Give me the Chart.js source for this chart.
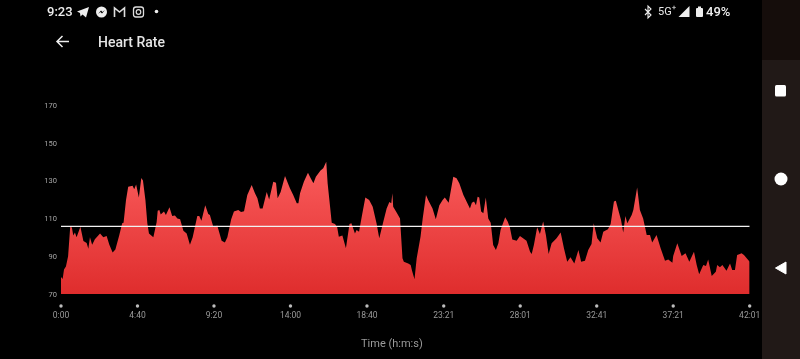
<!DOCTYPE html>
<html><head><meta charset="utf-8"><title>Heart Rate</title>
<script src="https://cdn.jsdelivr.net/npm/chart.js@4"></script>
<style>
html,body{margin:0;padding:0;background:#000;width:800px;height:359px;overflow:hidden;font-family:Roboto,sans-serif}
#wrap{position:absolute;left:0;top:0;width:800px;height:359px}
canvas{position:absolute;left:0;top:0}
.t{position:absolute;white-space:nowrap;line-height:1}
svg{position:absolute;overflow:visible}
#navTop{position:absolute;left:762px;top:0;width:38px;height:60px;background:#150d0b}
#nav{position:absolute;left:762px;top:60px;width:38px;height:299px;background:#211917}
</style></head><body>
<div id="wrap"><canvas id="c" width="800" height="359"></canvas>
<div id="navTop"></div><div id="nav"></div>
<div class="t" style="left:47px;top:5px;font-size:13px;font-weight:500;color:#eee">9:23</div>
<div class="t" style="left:98px;top:35px;font-size:14px;font-weight:500;color:#e6e6e6">Heart Rate</div>
<div class="t" style="left:658px;top:6px;font-size:11px;color:#e8e8e8">5G<sup style="font-size:8px;line-height:0">+</sup></div>
<div class="t" style="left:706px;top:5px;font-size:13px;font-weight:500;color:#eee">49%</div>
<div class="t" style="left:361px;top:338px;font-size:11px;color:#9a9a9a">Time (h:m:s)</div>
<svg width="800" height="359" style="left:0;top:0">
<path d="M69 41.5H57M62.5 36L57 41.5L62.5 47" fill="none" stroke="#eee" stroke-width="1.5"/>
<path d="M77 11.5L89 7L86 17.5L82.5 14.5L80.5 16.5L80 13Z" fill="#eee"/>
<circle cx="101.500" cy="12" r="5.500" fill="#eee"/><path d="M98 14L101 10.500L102.500 12L105 10L102 13.500L100.500 12Z" fill="#000"/>
<path d="M114.500 17V8L119.500 12L124.500 8V17" fill="none" stroke="#ddd" stroke-width="1.600"/>
<rect x="133.500" y="7" width="10" height="10" rx="2.500" fill="none" stroke="#ddd" stroke-width="1.300"/><circle cx="138.500" cy="12" r="2.300" fill="none" stroke="#ddd" stroke-width="1.200"/>
<circle cx="156.500" cy="11.500" r="1.800" fill="#eee"/>
<path d="M645 9L651 15L648 18V6L651 9L645 15" fill="none" stroke="#eee" stroke-width="1.100"/>
<path d="M678.500 17H689.500V6Z" fill="#eee"/>
<rect x="696" y="8" width="7" height="9" rx="1" fill="#eee"/><rect x="698" y="6.500" width="3" height="2" fill="#eee"/>
<rect x="775" y="85" width="11" height="11.500" rx="1.500" fill="#fff"/>
<circle cx="781" cy="179" r="6.500" fill="#fff"/>
<path d="M775.500 268L786 262V274Z" fill="#fff" stroke="#fff" stroke-linejoin="round"/>
</svg></div>
<script>
const tickSeconds=[0,280,560,840,1120,1401,1681,1961,2241,2521];
const tickLabels=["0:00","4:40","9:20","14:00","18:40","23:21","28:01","32:41","37:21","42:01"];
const yTicks=[70,90,110,130,150,170];
const averageHeartRate=105.8;
const seconds=[0,6,11,18,26,31,34,40,45,51,57,71,82,94,100,106,114,124,143,155,167,177,189,199,213,224,229,238,246,262,268,275,285,294,300,309,316,322,338,350,354,360,365,377,384,397,407,417,426,436,448,460,472,482,499,506,514,528,539,545,558,572,588,600,609,623,633,649,659,670,682,698,710,719,728,738,753,762,777,787,793,804,820,838,850,863,869,875,889,904,914,924,933,950,960,971,976,985,991,1003,1011,1017,1030,1043,1056,1063,1076,1082,1091,1102,1114,1128,1141,1155,1165,1180,1192,1202,1209,1213,1216,1228,1241,1250,1255,1271,1280,1285,1294,1302,1316,1324,1336,1344,1360,1372,1385,1397,1405,1419,1436,1448,1458,1473,1497,1504,1512,1519,1525,1531,1538,1546,1555,1564,1573,1582,1592,1601,1609,1626,1635,1643,1652,1668,1680,1704,1717,1723,1731,1743,1753,1765,1775,1785,1796,1814,1829,1841,1853,1865,1879,1894,1904,1918,1930,1942,1950,1963,1975,1985,2002,2012,2024,2031,2040,2050,2058,2066,2073,2089,2095,2109,2119,2131,2144,2156,2164,2180,2195,2211,2223,2238,2241,2256,2272,2286,2300,2317,2327,2336,2351,2361,2369,2382,2397,2402,2412,2421,2436,2449,2457,2467,2475,2485,2491,2500,2510,2521];
const heartRate=[79,78,83,84.5,90,100,106,105,101,102.5,100,105.6,98,97,94,100,96,99,102,100,100.7,96,92,93.6,101,107.4,107.7,119.7,126.8,127.3,125.4,128,121,131.4,130,119.7,107.4,102,100,108,114,114.4,112,113.7,111.8,115.9,111.3,111.6,110,109.5,103.5,102,96,100,111.3,111.3,108.8,117,112.3,111.8,105.3,106.3,98.2,97.2,100,109.5,113.7,114.4,113.4,113.8,122.4,127.7,123.3,120.6,115.3,115.3,124,120,129.4,128.9,120.6,124,132.4,126,122.4,118,118,123.3,129.4,134.2,131.2,128.6,132,135.3,136.5,140,128.6,116.2,107.7,107,105.3,100.3,101,94.2,107,107.4,102,103.9,103,111.8,121.1,119.7,116.2,107.4,99.5,108.3,115.3,118.7,118,123.3,116.2,113.2,110,88.9,87.1,86.2,85.3,82.3,77.8,88.9,100.3,110,122.4,119.7,115.3,109.5,117,119.7,121.1,118.3,132,131.2,128.6,122.4,115.3,118.3,118.9,117,121.5,121.1,113.6,112.7,121.1,110,107.7,95.9,93.3,96.8,103.9,110.6,108.3,105.3,98.9,98.2,100.7,98.2,92.4,91.2,95.9,105.3,101.7,108.3,101.2,91.2,96.8,99.5,102.5,94.2,87.1,89.4,86.2,93.3,87.1,87.6,93.3,96.5,107.4,99.5,97.2,103,104.2,107,118.9,119.4,114.4,109.2,102.5,111.3,107.4,111.8,114.4,126.4,114.4,110,101.2,101.2,97.2,101.2,94.2,87.6,88.3,86.6,90.1,96.8,90.1,91.5,87.1,92.4,85.3,80.4,85.3,84.8,88.3,79.5,81.8,85.3,84.1,85.3,82.3,86.2,82.7,82.7,90.6,91.2,91.5,90.6,88.9,87.1];

const series=seconds.map((s,i)=>({x:s,y:heartRate[i]}));
const avgLine=tickSeconds.map(s=>({x:s,y:averageHeartRate}));

const tickDots={id:'tickDots',afterDraw(chart){
  const sc=chart.scales.x,ctx=chart.ctx;ctx.save();ctx.fillStyle='#bdbdbd';
  sc.ticks.forEach((t,i)=>{ctx.beginPath();ctx.arc(sc.getPixelForTick(i),306,1.7,0,Math.PI*2);ctx.fill();});
  ctx.restore();}};

new Chart(document.getElementById('c'),{
  type:'line',
  data:{datasets:[
    {data:avgLine,borderColor:'#f2f2f2',borderWidth:1.2,pointRadius:0},
    {data:series,borderColor:'transparent',borderWidth:1,pointRadius:0,fill:'start',
     backgroundColor(ctx){const a=ctx.chart.chartArea;if(!a)return '#f04848';
       const g=ctx.chart.ctx.createLinearGradient(0,a.bottom-(a.bottom-a.top)*0.7,0,a.bottom);
       g.addColorStop(0,'#fa5c5c');g.addColorStop(1,'#df2d2d');return g;}}
  ]},
  plugins:[tickDots],
  options:{
    responsive:false,animation:false,
    layout:{padding:{top:105,right:50.3,left:0,bottom:0}},
    plugins:{legend:{display:false},tooltip:{enabled:false},title:{display:false}},
    scales:{
      x:{type:'linear',min:0,max:2521,border:{display:false},grid:{display:false,drawTicks:false},
        afterBuildTicks(s){s.ticks=tickSeconds.map(v=>({value:v}));},
        afterFit(s){s.height=65;},
        ticks:{autoSkip:false,maxRotation:0,padding:17,color:'#9a9a9a',font:{family:'Roboto',size:8.5},
          callback(v){const i=tickSeconds.indexOf(v);return i>=0?tickLabels[i]:'';}}},
      y:{min:70,max:170,border:{display:false},grid:{display:false,drawTicks:false},
        afterBuildTicks(s){s.ticks=yTicks.map(v=>({value:v}));},
        afterFit(s){s.width=61;},
        ticks:{padding:4,labelOffset:1,color:'#a6a6a6',font:{family:'Roboto',size:7.5}}}
    }
  }
});
</script></body></html>
